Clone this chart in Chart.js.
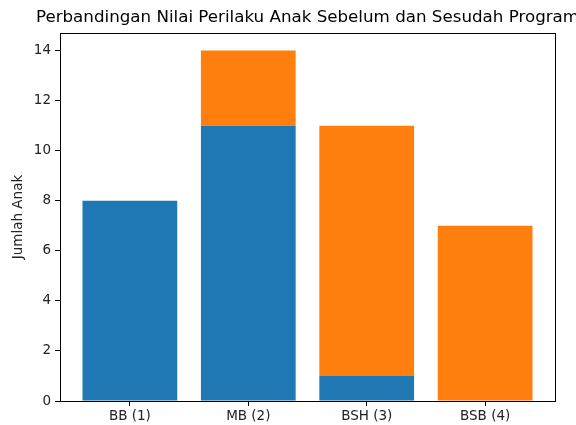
<!DOCTYPE html>
<html>
<head>
<meta charset="utf-8">
<script src="https://cdn.jsdelivr.net/npm/chart.js@4/dist/chart.umd.min.js"></script>
<style>
  html, body { margin: 0; padding: 0; background: #fff; }
  #wrap { width: 576px; height: 425px; }
</style>
</head>
<body>
<div id="wrap"><canvas id="chart" width="576" height="425"></canvas></div>
<script>
/* ---------------- DATA ---------------- */

const categories = ["BB (1)", "MB (2)", "BSH (3)", "BSB (4)"];
const sebelum = [8, 11, 1, 0];
const sesudah = [0, 3, 10, 7];
const yTicks = [0, 2, 4, 6, 8, 10, 12, 14];

const titleText = "Perbandingan Nilai Perilaku Anak Sebelum dan Sesudah Program";
const FONT = "'DejaVu Sans', sans-serif";

/* ---------------- PLUGINS ---------------- */

// matplotlib-like frame + title centered over the plot area
const framePlugin = {
  id: "frame",
  afterDraw(chart) {
    const { ctx, chartArea: a } = chart;
    ctx.save();
    ctx.strokeStyle = "#000";
    ctx.lineWidth = 1;
    ctx.strokeRect(a.left + 0.5, a.top + 0.5, a.right - a.left, a.bottom - a.top);
    ctx.fillStyle = "#000";
    ctx.font = "16.7px " + FONT;
    ctx.textAlign = "center";
    ctx.textBaseline = "middle";
    ctx.fillText(titleText, (a.left + a.right) / 2, 18);
    ctx.restore();
  }
};

/* ---------------- CHART ---------------- */

const toPoints = arr => arr.map((v, i) => ({ x: i, y: v }));

new Chart(document.getElementById("chart"), {
  type: "bar",
  data: {
    datasets: [
      {
        label: "Sebelum",
        data: toPoints(sebelum),
        backgroundColor: "#1f77b4",
        borderWidth: 0,
        categoryPercentage: 1,
        barPercentage: 0.8,
        inflateAmount: 0
      },
      {
        label: "Sesudah",
        data: toPoints(sesudah),
        backgroundColor: "#ff7f0e",
        borderWidth: 0,
        categoryPercentage: 1,
        barPercentage: 0.8,
        inflateAmount: 0
      }
    ]
  },
  options: {
    responsive: false,
    animation: false,
    layout: { padding: { left: 0, right: 21, top: 33, bottom: 0 } },
    plugins: {
      legend: { display: false },
      title: { display: false },
      tooltip: { enabled: false }
    },
    scales: {
      x: {
        type: "linear",
        stacked: true,
        offset: false,
        min: -0.59,
        max: 3.59,
        afterBuildTicks: s => { s.ticks = categories.map((c, i) => ({ value: i })); },
        afterFit: s => { s.height = 24; },
        ticks: {
          callback: v => categories[v],
          color: "#222",
          font: { family: FONT, size: 13.5 },
          padding: 2,
          maxRotation: 0
        },
        grid: { drawOnChartArea: false, offset: false, tickLength: 5, tickColor: "#000" },
        border: { display: false }
      },
      y: {
        stacked: true,
        min: 0,
        max: 14.7,
        afterBuildTicks: s => { s.ticks = yTicks.map(v => ({ value: v })); },
        afterFit: s => { s.width = 60; },
        ticks: {
          color: "#222",
          font: { family: FONT, size: 13.5 },
          padding: 4
        },
        title: {
          display: true,
          text: "Jumlah Anak",
          color: "#222",
          font: { family: FONT, size: 13.5 },
          padding: { top: 10, bottom: 0 }
        },
        grid: { drawOnChartArea: false, tickLength: 5, tickColor: "#000" },
        border: { display: false }
      }
    }
  },
  plugins: [framePlugin]
});
</script>
</body>
</html>
